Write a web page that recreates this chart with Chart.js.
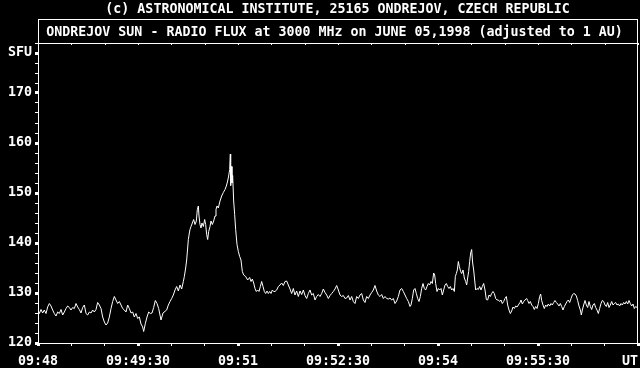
<!DOCTYPE html>
<html>
<head>
<meta charset="utf-8">
<script src="https://cdn.jsdelivr.net/npm/chart.js@4/dist/chart.umd.min.js"></script>
<style>
  html, body { margin: 0; padding: 0; background: #000; }
  canvas { display: block; }
</style>
</head>
<body>
<canvas id="flux_chart" width="640" height="368"></canvas>
<script>
// header + boxed title
const header = "(c) ASTRONOMICAL INSTITUTE, 25165 ONDREJOV, CZECH REPUBLIC";
const title = "ONDREJOV SUN - RADIO FLUX at 3000 MHz on JUNE 05,1998 (adjusted to 1 AU)";

// x axis: seconds after 09:48 UT, labels every 90 s
const timeTicks = [0, 90, 180, 270, 360, 450, 540];
const timeLabels = ["09:48", "09:49:30", "09:51", "09:52:30", "09:54", "09:55:30", "UT  "];

// y axis: labelled ticks (SFU unit sits on the 178 tick)
const fluxTicks = [120, 130, 140, 150, 160, 170, 178];
const fluxLabels = ["120", "130", "140", "150", "160", "170", "SFU"];

// (seconds after 09:48, flux in SFU)
const seconds = [
  0, 1.2, 2.7, 4.2, 5.7, 7.2, 8.7, 10.2, 11.7, 13.2, 14.7, 16.2, 17.7, 19.2, 20.7, 22.2, 23.7, 25.2, 26.7, 28.2,
  29.7, 31.2, 32.7, 34.2, 35.7, 37.2, 38.7, 40.2, 41.7, 43.2, 44.7, 46.2, 47.7, 49.2, 50.7, 52.2, 53.7, 55.2, 56.7, 58.2,
  59.7, 61.2, 62.7, 64.2, 65.7, 67.2, 68.7, 70.2, 71.7, 73.2, 74.7, 76.2, 77.7, 79.2, 80.7, 82.2, 83.7, 85.2, 86.7, 88.2,
  89.7, 91.2, 92.7, 94.2, 95.1, 96.6, 98.1, 99.6, 101.1, 102.6, 104.1, 105.6, 107.1, 108.6, 110.7, 112.5, 115.8,
  117.3, 118.8, 120.3, 121.8, 123.3, 124.8, 126.3, 127.8, 129.3, 130.8, 131.7, 132.9, 133.8, 134.7, 135.3, 136.2, 136.8,
  137.7, 138.9, 140.1, 141.3, 142.5, 143.4, 144.3, 144.9, 145.8, 146.7, 147.6, 148.8, 150.0, 150.9, 151.8, 152.7, 153.6,
  154.8, 155.7, 156.9, 158.1, 159.3, 160.2, 161.1, 162.3, 163.8, 165.3, 166.8, 168.3, 169.5, 170.7, 171.6, 172.5, 173.1,
  173.4, 174.0, 174.6, 175.2, 176.1, 177.0, 177.9, 179.1, 180.3, 181.5, 182.7, 183.9, 185.1, 186.9, 188.7, 190.5, 191.7,
  192.9, 194.1, 195.3, 196.5, 197.7, 198.9, 200.1, 201.3, 202.5, 203.7, 204.9, 206.1, 207.3, 208.5, 209.7, 210.9, 212.1,
  213.3, 214.8, 216.3, 217.8, 219.3, 220.8, 222.3, 223.8, 225.3, 226.8, 228.3, 229.8, 231.3, 232.8, 234.3, 235.8, 237.3,
  238.8, 240.3, 241.8, 243.3, 244.8, 246.3, 247.8, 249.3, 250.8, 252.3, 253.8, 255.3, 256.8, 258.3, 259.8, 261.3, 262.8,
  264.3, 265.8, 267.3, 268.8, 270.3, 271.8, 273.3, 274.8, 276.3, 277.8, 279.3, 280.8, 282.3, 283.8, 285.3, 286.8, 288.3,
  289.8, 291.3, 292.8, 294.3, 295.8, 297.3, 298.8, 300.3, 301.8, 303.3, 304.8, 306.3, 307.8, 309.3, 310.8, 312.3, 313.8,
  315.3, 316.8, 318.3, 319.8, 321.3, 322.8, 324.3,
  325.8, 327.3, 328.8, 330.3, 331.8, 333.3, 334.8, 335.7, 336.9, 338.1, 339.3, 340.5, 341.7, 342.9, 344.1, 345.3, 346.5,
  347.7, 348.9, 350.1, 351.3, 352.5, 353.7, 354.9, 356.1, 357.0, 357.9, 359.1, 360.3, 361.5, 362.7, 363.9, 365.1, 366.3,
  367.5, 368.7, 369.9, 371.1, 372.3, 373.5, 374.7, 375.6, 376.5, 377.4, 378.3, 379.2, 380.4, 381.3, 382.5, 383.7, 384.9,
  385.8, 386.7, 387.6, 388.5, 389.4, 390.3, 391.2, 392.1, 393.0, 393.9, 395.1, 396.3, 397.5, 398.7, 399.9, 401.1, 402.3,
  403.5, 404.7, 405.9, 407.1, 408.3, 409.5, 410.7, 411.9, 413.1, 414.3, 415.5, 416.7, 417.9, 419.1, 420.3, 421.5, 422.7,
  423.9, 425.1, 426.3, 427.5, 428.7, 429.9, 431.1, 432.3,
  433.8, 434.7, 435.9, 437.1, 438.3, 439.8, 440.7, 441.9, 443.1, 444.3, 445.5, 446.7, 447.9, 449.1, 450.3, 451.5, 452.4,
  453.3, 454.5, 455.7, 456.9, 458.1, 459.3, 460.5, 461.7, 462.9, 464.1, 465.3, 466.5, 467.7, 468.9, 470.1, 471.3, 472.5,
  473.7, 474.9, 476.1, 477.3, 478.5, 479.7, 480.9, 482.1, 483.3, 484.5, 485.7, 486.9, 488.1, 489.0, 489.9, 491.1, 492.3,
  493.5, 494.7, 495.9, 497.1, 498.3, 499.5, 500.7, 501.9, 503.1, 504.3, 505.5, 506.7, 507.9, 509.1, 510.3, 511.5, 512.7,
  513.9, 515.1, 516.3, 517.5, 518.7, 519.9, 521.1, 522.3, 523.5, 524.7, 525.9, 527.1, 528.3, 529.5, 530.7, 531.9, 533.1,
  534.3, 535.5, 536.7, 537.9, 539.1
];
const flux = [
  126.6, 125.9, 126.7, 126.0, 126.6, 125.9, 127.2, 127.9, 127.4, 126.6, 125.9, 125.4, 126.2, 125.9, 126.7, 125.6, 126.2, 126.9, 127.4, 127.1,
  126.6, 127.1, 126.9, 127.9, 127.2, 126.7, 126.0, 127.1, 127.6, 125.9, 125.6, 126.2, 126.0, 126.6, 126.2, 126.7, 128.1, 127.6, 126.9, 125.2,
  124.2, 123.6, 124.0, 125.2, 126.9, 128.3, 129.3, 128.6, 127.9, 128.3, 127.6, 126.9, 126.6, 126.2, 127.6, 126.9, 126.0, 126.2, 125.2, 125.9,
  124.9, 125.2, 123.8, 123.2, 122.3, 123.9, 125.2, 126.2, 125.9, 126.0, 127.1, 128.5, 127.9, 126.9, 124.6, 126.0, 126.6,
  127.6, 128.3, 128.9, 129.6, 130.6, 131.3, 130.4, 131.6, 130.8, 132.3, 133.3, 135.0, 136.6, 139.0, 140.7, 142.0, 142.7,
  143.3, 144.0, 144.7, 143.7, 144.4, 146.7, 147.4, 145.4, 143.7, 143.0, 144.0, 143.3, 144.7, 143.7, 141.7, 140.7, 142.3,
  143.3, 144.4, 143.7, 144.4, 145.4, 146.7, 147.4, 147.0, 148.4, 149.4, 150.1, 150.7, 151.4, 152.4, 153.4, 154.7, 157.8,
  151.5, 155.3, 152.0, 153.5, 148.4, 145.7, 142.7, 139.7, 138.3, 137.3, 136.6, 134.3, 133.6, 133.3, 132.6, 133.1, 132.3,
  132.8, 132.0, 130.9, 130.3, 130.6, 130.3, 131.3, 132.3, 131.3, 130.3, 129.9, 130.4, 129.9, 130.3, 129.9, 130.6, 130.3,
  130.3, 130.6, 131.3, 131.6, 132.0, 131.5, 132.3, 132.4, 131.6, 130.8, 129.9, 130.9, 129.6, 130.4, 129.3, 130.4, 129.7,
  130.6, 129.5, 128.9, 129.9, 130.6, 129.6, 129.9, 128.6, 129.3, 129.7, 129.3, 129.9, 130.8, 130.1, 129.6, 128.9, 129.5,
  129.9, 130.3, 130.8, 131.5, 130.6, 129.6, 129.3, 129.5, 128.9, 129.0, 129.5, 128.6, 129.3, 128.3, 127.9, 129.3, 128.9,
  129.6, 129.9, 128.6, 128.1, 129.3, 128.9, 129.6, 130.1, 130.6, 131.5, 130.4, 129.6, 129.3, 129.7, 128.9, 129.3, 128.9,
  128.8, 129.0, 128.6, 128.9, 127.9, 128.4, 129.3,
  130.6, 130.9, 130.3, 129.6, 128.9, 128.3, 127.3, 127.6, 128.9, 130.6, 130.9, 129.9, 128.9, 128.3, 129.3, 130.9, 131.9,
  130.9, 130.6, 131.3, 131.9, 131.6, 132.3, 131.9, 134.0, 133.6, 131.9, 130.3, 130.9, 130.6, 130.9, 129.6, 130.6, 131.6,
  131.9, 131.3, 130.9, 131.3, 130.6, 130.9, 130.3, 133.3, 133.9, 134.6, 136.3, 135.3, 134.3, 133.9, 134.6, 133.0, 132.3,
  131.6, 133.0, 134.3, 136.3, 138.0, 138.7, 136.0, 134.6, 132.6, 130.6, 130.9, 130.7, 131.3, 130.6, 131.3, 131.9, 130.6,
  128.7, 128.6, 129.6, 129.3, 129.9, 130.3, 129.9, 128.9, 128.6, 128.6, 128.3, 128.6, 127.9, 128.3, 128.9, 129.3, 127.6,
  126.6, 125.9, 126.4, 127.2, 126.9, 127.4, 127.2, 127.6,
  128.1, 128.6, 127.8, 128.3, 128.6, 128.9, 128.5, 127.9, 128.3, 127.6, 127.3, 126.7, 127.3, 126.9, 127.9, 129.3, 129.8,
  128.5, 127.6, 126.9, 127.6, 127.3, 127.8, 127.4, 127.9, 127.6, 128.1, 128.5, 128.1, 127.8, 127.4, 127.9, 127.3, 126.6,
  127.3, 127.8, 128.3, 128.6, 128.1, 128.9, 129.6, 129.9, 129.8, 129.4, 128.5, 127.4, 126.6, 125.6, 126.6, 127.6, 128.5,
  127.6, 127.1, 128.3, 127.3, 126.7, 127.6, 127.9, 127.1, 126.6, 125.9, 126.9, 127.9, 128.5, 128.3, 127.6, 127.3, 128.1,
  127.1, 127.6, 128.3, 127.6, 127.9, 128.1, 127.6, 127.8, 127.4, 127.9, 127.6, 128.1, 127.8, 128.3, 127.8, 128.5, 127.9,
  127.4, 127.8, 126.9, 127.3, 127.1
];

const FONT = { family: "'DejaVu Sans Mono', monospace", size: 13.3, weight: "bold" };

// title box, right frame edge, inner top ticks, header line
const framePlugin = {
  id: "frame",
  beforeDraw(chart) {
    const c = chart.ctx;
    c.save();
    c.fillStyle = "#000";
    c.fillRect(0, 0, chart.width, chart.height);
    c.restore();
  },
  afterDraw(chart) {
    const c = chart.ctx;
    const a = chart.chartArea;
    const xs = chart.scales.x;
    c.save();
    c.strokeStyle = "#fff";
    c.fillStyle = "#fff";
    c.lineWidth = 1;
    c.strokeRect(a.left + 0.5, 19.5, a.right - a.left - 1, a.top - 19);
    c.beginPath();
    c.moveTo(a.right - 0.5, a.top);
    c.lineTo(a.right - 0.5, a.bottom);
    c.stroke();
    xs.ticks.forEach(t => {
      let px = Math.round(xs.getPixelForValue(t.value));
      c.fillRect(px, a.top, 1, 2);
    });
    c.font = `${FONT.weight} ${FONT.size}px ${FONT.family}`;
    c.textAlign = "center";
    c.textBaseline = "alphabetic";
    c.fillText(header, 337.5, 13);
    c.fillText(title, 334.5, 36);
    c.restore();
  }
};

let data = seconds.map((s, i) => ({ x: s, y: flux[i] }));

new Chart("flux_chart", {
  type: "line",
  data: {
    datasets: [{
      label: "Flux",
      data: data,
      borderColor: "#fff",
      borderWidth: 1,
      pointRadius: 0,
      fill: false,
      tension: 0,
    }]
  },
  options: {
    responsive: false,
    animation: false,
    devicePixelRatio: 1,
    layout: { padding: { top: 43, right: 2, left: 0, bottom: 0 } },
    plugins: { legend: { display: false }, tooltip: { enabled: false } },
    scales: {
      x: {
        type: "linear",
        min: 0,
        max: 540,
        afterFit(scale) { scale.height = 25; scale.paddingLeft = 0; scale.paddingRight = 0; },
        ticks: {
          stepSize: 30,
          autoSkip: false,
          maxRotation: 0,
          color: "#fff",
          padding: 8,
          font: FONT,
          callback: v => {
            let i = timeTicks.indexOf(v);
            return i < 0 ? "" : timeLabels[i];
          }
        },
        grid: {
          drawOnChartArea: false,
          tickLength: 3,
          color: "#fff",
          lineWidth: ctx => (ctx.tick && timeTicks.includes(ctx.tick.value)) ? 3 : 1
        },
        border: { display: true, color: "#fff", width: 1 }
      },
      y: {
        type: "linear",
        min: 120,
        max: 180,
        afterFit(scale) { scale.width = 38; },
        ticks: {
          stepSize: 2,
          autoSkip: false,
          color: "#fff",
          padding: 3,
          font: FONT,
          callback: v => {
            let i = fluxTicks.indexOf(v);
            return i < 0 ? "" : fluxLabels[i];
          }
        },
        grid: {
          drawOnChartArea: false,
          tickLength: 3,
          color: "#fff",
          lineWidth: ctx => (ctx.tick && fluxTicks.includes(ctx.tick.value)) ? 3 : 1
        },
        border: { display: true, color: "#fff", width: 1 }
      }
    }
  },
  plugins: [framePlugin]
});
</script>
</body>
</html>
